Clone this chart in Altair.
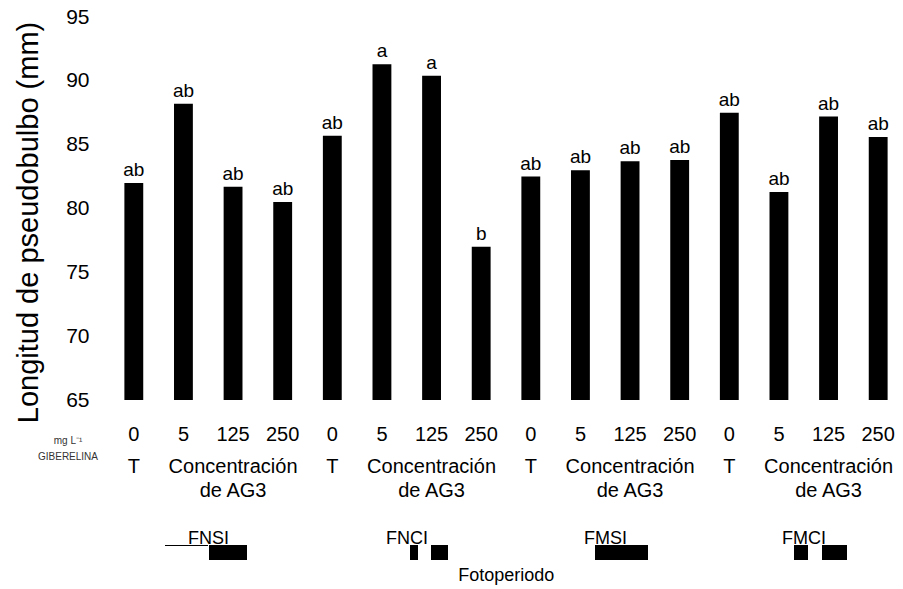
import altair as alt
import pandas as pd

# Pseudobulb length by photoperiod treatment and gibberellin (AG3) dose
groups = ["FNSI", "FNCI", "FMSI", "FMCI"]
doses = ["0", "5", "125", "250"]
lengths = [82.0, 88.2, 81.7, 80.5,
           85.7, 91.3, 90.4, 77.0,
           82.5, 83.0, 83.7, 83.8,
           87.5, 81.3, 87.2, 85.6]
letters = ["ab", "ab", "ab", "ab",
           "ab", "a", "a", "b",
           "ab", "ab", "ab", "ab",
           "ab", "ab", "ab", "ab"]

keys = [f"{g}|{d}" for g in groups for d in doses]
df = pd.DataFrame({"key": keys, "len": lengths, "letter": letters})

FONT = "Liberation Sans"
W, H = 794, 383

x_enc = alt.X(
    "key:N", sort=keys, title=None,
    scale=alt.Scale(paddingInner=0.62, paddingOuter=0.31),
    axis=alt.Axis(labelExpr="split(datum.label, '|')[1]", labelAngle=0,
                  ticks=False, domain=False, labelFont=FONT, labelFontSize=20,
                  labelColor="black", labelPadding=24),
)
y_enc = alt.Y(
    "len:Q", title="Longitud de pseudobulbo (mm)",
    scale=alt.Scale(domain=[65, 95], zero=False, nice=False),
    axis=alt.Axis(values=[65, 70, 75, 80, 85, 90, 95], ticks=False, domain=False,
                  grid=False, labelFont=FONT, labelFontSize=21, labelColor="black",
                  labelPadding=20, titleFont=FONT, titleFontSize=29,
                  titleFontWeight="normal", titleColor="black", titleAngle=-90,
                  titleAlign="center", titleBaseline="middle",
                  titleX=-81, titleY=205),
)

bars = alt.Chart(df).mark_bar(color="black").encode(x=x_enc, y=y_enc, y2=alt.datum(65))

marks = alt.Chart(df).mark_text(
    font=FONT, fontSize=19, color="black", baseline="bottom", dy=-3
).encode(x=alt.X("key:N", sort=keys), y="len:Q", text="letter:N")

# Treatment captions under each group: control "T" and the AG3 doses
cap_df = pd.DataFrame({
    "key": [f"{g}|0" for g in groups] + [f"{g}|125" for g in groups],
    "txt": ["T"] * 4 + ["Concentración"] * 4,
    "txt2": [""] * 4 + ["de AG3"] * 4,
})
cap1 = alt.Chart(cap_df).mark_text(
    font=FONT, fontSize=20, color="black", baseline="middle"
).encode(x=alt.X("key:N", sort=keys), y=alt.value(450), text="txt:N")
cap2 = alt.Chart(cap_df).mark_text(
    font=FONT, fontSize=20, color="black", baseline="middle"
).encode(x=alt.X("key:N", sort=keys), y=alt.value(474), text="txt2:N")

# Photoperiod names centred on each group
grp_df = pd.DataFrame({"key": [f"{g}|5" for g in groups], "name": groups})
grp = alt.Chart(grp_df).mark_text(
    font=FONT, fontSize=18, color="black", baseline="middle", dx=25
).encode(x=alt.X("key:N", sort=keys), y=alt.value(522), text="name:N")

foto = alt.Chart(pd.DataFrame({"key": ["FNCI|250"], "t": ["Fotoperiodo"]})).mark_text(
    font=FONT, fontSize=18, color="black", baseline="middle", dx=25
).encode(x=alt.X("key:N", sort=keys), y=alt.value(559), text="t:N")

# Light/dark schematic blocks for each photoperiod
sym_df = pd.DataFrame({
    "x0": [100, 301, 322, 486, 685, 713],
    "x1": [138, 309, 339, 539, 699, 738],
})
syms = alt.Chart(sym_df).mark_rect(color="black").encode(
    x=alt.X("x0:Q", scale=None), x2="x1:Q",
    y=alt.value(528), y2=alt.value(543),
)
light = alt.Chart(pd.DataFrame({"a": [0]})).mark_rule(color="black", strokeWidth=1).encode(
    x=alt.value(56), x2=alt.value(99), y=alt.value(528.5),
)

# Unit note for the dose row
unit = alt.Chart(pd.DataFrame({"t": ["mg L⁻¹", "GIBERELINA"], "yy": [441 - 17, 457 - 17]})).mark_text(
    font=FONT, fontSize=10, color="#333333", baseline="middle"
).encode(x=alt.value(68 - 109), y=alt.Y("yy:Q", scale=None), text="t:N")

chart = alt.layer(bars, marks, cap1, cap2, grp, foto, syms, light, unit).properties(
    width=W, height=H,
    autosize=alt.AutoSizeParams(type="none"),
    padding={"left": 109, "top": 17, "right": 0, "bottom": 189},
    background="white",
).configure_view(stroke=None).configure_axis(grid=False)

chart.save("out.html", embed_options={"renderer": "svg", "actions": False})
